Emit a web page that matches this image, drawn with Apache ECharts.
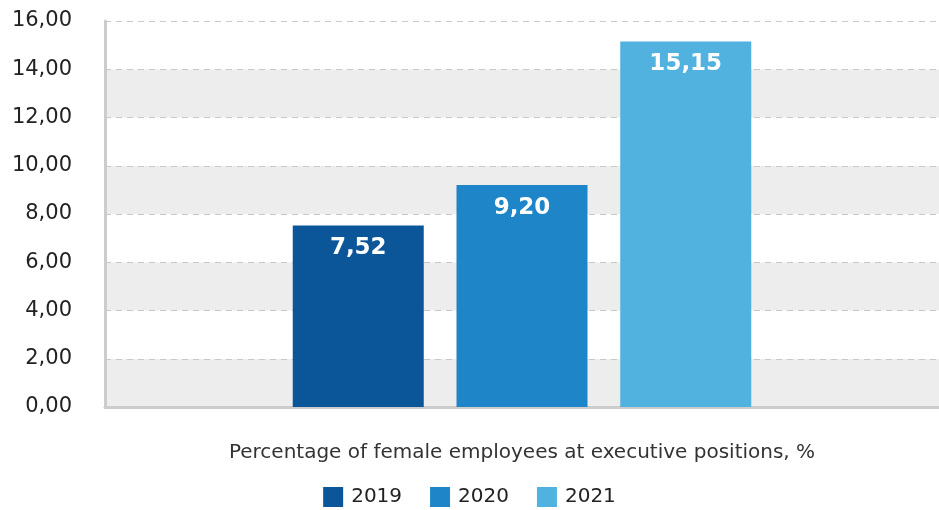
<!DOCTYPE html>
<html>
<head>
<meta charset="utf-8">
<script src="https://cdn.jsdelivr.net/npm/echarts@6/dist/echarts.min.js"></script>
<style>
  html, body { margin: 0; padding: 0; background: #ffffff; }
  #chart { width: 939px; height: 510px; }
</style>
</head>
<body>
<div id="chart"></div>
<script>
// Share of women in executive roles, by year
const categories = ['Percentage of female employees at executive positions, %'];
const years = ['2019', '2020', '2021'];
const values2019 = [7.52];
const values2020 = [9.20];
const values2021 = [15.15];
const yearColors = ['#0b5699', '#1e86c8', '#51b1df'];
const yMin = 0, yMax = 16, yStep = 2;

const FONT = '"DejaVu Sans", sans-serif';
const fmt = v => v.toFixed(2).replace('.', ',');

const seriesValues = [values2019, values2020, values2021];

const chart = echarts.init(document.getElementById('chart'));
chart.setOption({
  animation: false,
  textStyle: { fontFamily: FONT },
  grid: { left: 105, right: 0, top: 21, bottom: 103 },
  legend: {
    data: years,
    top: 482,
    left: 'center',
    itemWidth: 20,
    itemHeight: 20,
    itemGap: 28,
    icon: 'rect',
    textStyle: { fontFamily: FONT, fontSize: 20, color: '#222', padding: [0, 0, 0, 3] }
  },
  xAxis: {
    type: 'category',
    data: categories,
    axisLine: { lineStyle: { color: '#cccccc', width: 3 } },
    axisTick: { show: false },
    axisLabel: { show: false },
    name: categories[0],
    nameLocation: 'middle',
    nameGap: 36,
    nameTextStyle: { fontFamily: FONT, fontSize: 20, color: '#333' }
  },
  yAxis: {
    type: 'value',
    min: yMin,
    max: yMax,
    interval: yStep,
    axisLine: { show: true, lineStyle: { color: '#cccccc', width: 3 } },
    axisTick: { show: false },
    axisLabel: {
      formatter: fmt,
      margin: 33,
      fontFamily: FONT,
      fontSize: 21,
      color: '#222'
    },
    splitLine: { lineStyle: { color: '#c8c8c8', type: [6, 5], width: 1 } },
    splitArea: { show: true, areaStyle: { color: ['#ecedec', '#ffffff'] } }
  },
  series: years.map((y, i) => ({
    name: y,
    type: 'bar',
    data: seriesValues[i],
    barWidth: 131,
    barGap: '25%',
    itemStyle: { color: yearColors[i] },
    label: {
      show: true,
      position: 'insideTop',
      distance: 11,
      formatter: p => fmt(p.value),
      fontFamily: FONT,
      fontWeight: 'bold',
      fontSize: 23,
      color: '#ffffff'
    }
  }))
});
</script>
</body>
</html>
